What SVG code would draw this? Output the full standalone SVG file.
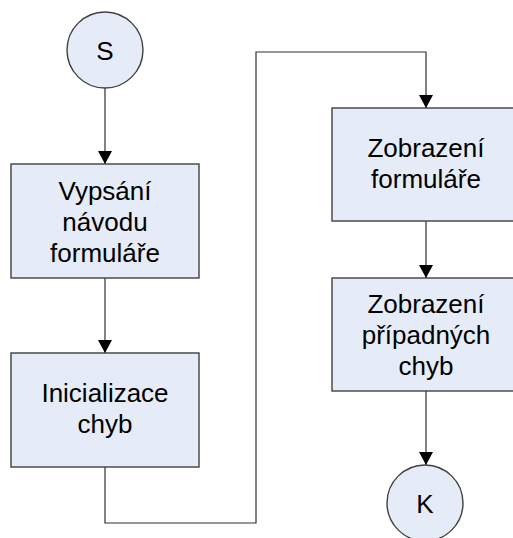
<svg xmlns="http://www.w3.org/2000/svg" width="513" height="538" viewBox="0 0 513 538">
  <style>
    .node { fill: #E6ECF7; stroke: #404040; stroke-width: 1.4; }
    .label { font-family: "Liberation Sans", Arial, sans-serif; font-size: 26px; fill: #000; text-anchor: middle; }
    .conn { fill: none; stroke: #303030; stroke-width: 1.2; }
  </style>
  <defs>
    <marker id="arrow" markerUnits="userSpaceOnUse" markerWidth="14" markerHeight="14" refX="13" refY="7" orient="auto">
      <path d="M0,0 L13,7 L0,14 z" fill="#000"/>
    </marker>
  </defs>
  <rect width="513" height="538" fill="#fff"/>

  <g id="connectors">
    <path class="conn" d="M105,88 V164" marker-end="url(#arrow)"/>
    <path class="conn" d="M105,278 V353" marker-end="url(#arrow)"/>
    <path class="conn" d="M105,467 V523 H256 V52 H426 V108" marker-end="url(#arrow)"/>
    <path class="conn" d="M426,221 V278" marker-end="url(#arrow)"/>
    <path class="conn" d="M426,391 V465" marker-end="url(#arrow)"/>
  </g>

  <g id="start">
    <circle class="node" cx="105" cy="50" r="38"/>
    <text class="label" x="105" y="60">S</text>
  </g>

  <g id="vypsani">
    <rect class="node" x="11" y="164" width="188" height="114"/>
    <text class="label" x="105" y="200">Vypsání</text>
    <text class="label" x="105" y="231">návodu</text>
    <text class="label" x="105" y="262">formuláře</text>
  </g>

  <g id="inicializace">
    <rect class="node" x="11" y="353" width="188" height="114"/>
    <text class="label" x="105" y="402">Inicializace</text>
    <text class="label" x="105" y="433">chyb</text>
  </g>

  <g id="zobrazeni-formulare">
    <rect class="node" x="332" y="108" width="188" height="113"/>
    <text class="label" x="426" y="157">Zobrazení</text>
    <text class="label" x="426" y="188">formuláře</text>
  </g>

  <g id="zobrazeni-chyb">
    <rect class="node" x="332" y="278" width="188" height="113"/>
    <text class="label" x="426" y="313">Zobrazení</text>
    <text class="label" x="426" y="344">případných</text>
    <text class="label" x="426" y="375">chyb</text>
  </g>

  <g id="end">
    <circle class="node" cx="425" cy="503" r="38"/>
    <text class="label" x="425" y="513">K</text>
  </g>
</svg>
